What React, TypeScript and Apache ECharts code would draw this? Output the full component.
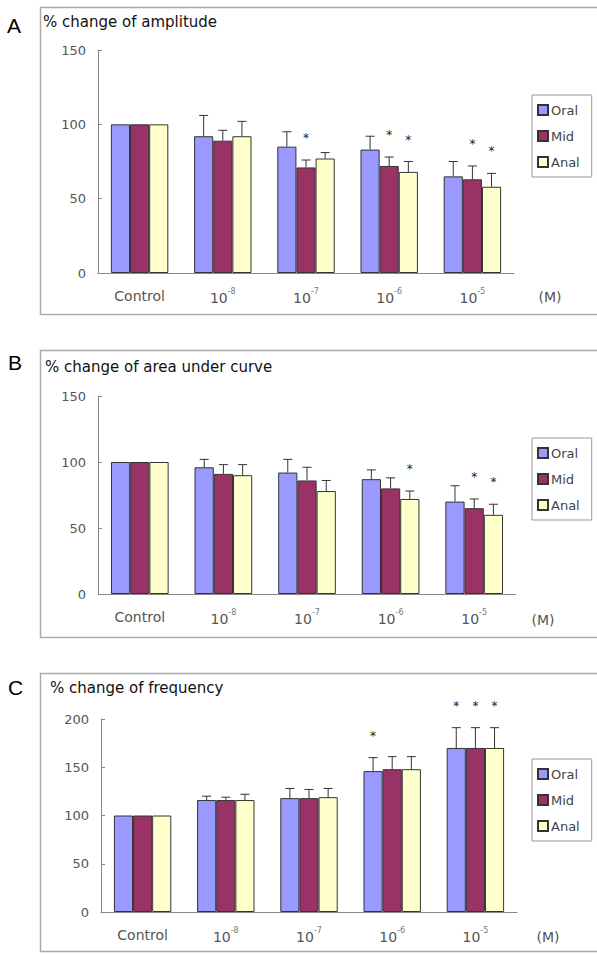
import React, { useEffect, useRef } from "react";
import * as echarts from "echarts";

const categories = ["Control", "10-8", "10-7", "10-6", "10-5"];
const seriesNames = ["Oral", "Mid", "Anal"];
const seriesColors = ["#9999FF", "#993366", "#FFFFCC"];

// Panel A: % change of amplitude
const ampOral = [100, 92, 85, 83, 65];
const ampOralErr = [0, 14, 10, 9, 10];
const ampMid = [100, 89, 71, 72, 63];
const ampMidErr = [0, 7, 5, 6, 9];
const ampAnal = [100, 92, 77, 68, 58];
const ampAnalErr = [0, 10, 4, 7, 9];
const ampOralSig = [0, 0, 0, 0, 0];
const ampMidSig = [0, 0, 1, 1, 1];
const ampAnalSig = [0, 0, 0, 1, 1];

// Panel B: % change of area under curve
const aucOral = [100, 96, 92, 87, 70];
const aucOralErr = [0, 6, 10, 7, 12];
const aucMid = [100, 91, 86, 80, 65];
const aucMidErr = [0, 7, 10, 8, 7];
const aucAnal = [100, 90, 78, 72, 60];
const aucAnalErr = [0, 8, 8, 6, 8];
const aucOralSig = [0, 0, 0, 0, 0];
const aucMidSig = [0, 0, 0, 0, 1];
const aucAnalSig = [0, 0, 0, 1, 1];

// Panel C: % change of frequency
const freqOral = [100, 116, 118, 146, 170];
const freqOralErr = [0, 4, 10, 14, 21];
const freqMid = [100, 116, 118, 148, 170];
const freqMidErr = [0, 3, 9, 13, 21];
const freqAnal = [100, 116, 119, 148, 170];
const freqAnalErr = [0, 6, 9, 13, 21];
const freqOralSig = [0, 0, 0, 1, 1];
const freqMidSig = [0, 0, 0, 0, 1];
const freqAnalSig = [0, 0, 0, 0, 1];

const ampMax = 150;
const aucMax = 150;
const freqMax = 200;
const yInterval = 50;

const panelTitles = ["% change of amplitude", "% change of area under curve", "% change of frequency"];
const panelLetters = ["A", "B", "C"];
const unitLabel = "(M)";

const FONT = "DejaVu Sans";
const CAT_GAP = 0.31;

export default function App() {
  const ref = useRef<HTMLDivElement>(null);

  useEffect(() => {
    if (!ref.current) return;
    const chart = echarts.init(ref.current, null, { renderer: "svg" });

    const panels = [
      {
        vals: [ampOral, ampMid, ampAnal],
        errs: [ampOralErr, ampMidErr, ampAnalErr],
        sigs: [ampOralSig, ampMidSig, ampAnalSig],
        max: ampMax,
        grid: { left: 98, top: 50, width: 416, height: 223 },
        legendTop: 95,
        titleXY: [43, 22],
        letterXY: [7, 25],
        unitXY: [550, 297],
      },
      {
        vals: [aucOral, aucMid, aucAnal],
        errs: [aucOralErr, aucMidErr, aucAnalErr],
        sigs: [aucOralSig, aucMidSig, aucAnalSig],
        max: aucMax,
        grid: { left: 98, top: 396, width: 418, height: 198 },
        legendTop: 438,
        titleXY: [45, 367],
        letterXY: [8, 362],
        unitXY: [543, 620],
      },
      {
        vals: [freqOral, freqMid, freqAnal],
        errs: [freqOralErr, freqMidErr, freqAnalErr],
        sigs: [freqOralSig, freqMidSig, freqAnalSig],
        max: freqMax,
        grid: { left: 101, top: 719, width: 416, height: 193 },
        legendTop: 759,
        titleXY: [50, 688],
        letterXY: [8, 687],
        unitXY: [548, 937],
      },
    ];

    const grids: any[] = [];
    const xAxes: any[] = [];
    const yAxes: any[] = [];
    const legends: any[] = [];
    const series: any[] = [];
    const graphics: any[] = [];

    const frames = [
      { y: 7.5, h: 307 },
      { y: 350.5, h: 287 },
      { y: 673.5, h: 278 },
    ];

    panels.forEach((p, gi) => {
      grids.push({ ...p.grid, containLabel: false });
      xAxes.push({
        type: "category",
        gridIndex: gi,
        data: categories,
        axisLine: { lineStyle: { color: "#888", width: 1 } },
        axisTick: { inside: true, length: 4, lineStyle: { color: "#888" } },
        axisLabel: {
          interval: 0,
          color: "#555",
          fontSize: 14,
          fontFamily: FONT,
          margin: 14,
          lineHeight: 18,
          formatter: (v: string) => (v === "Control" ? v : "{b|10}{s|" + v.slice(2) + "}"),
          rich: {
            b: { fontSize: 14, fontFamily: FONT, color: "#555", lineHeight: 18, verticalAlign: "bottom" },
            s: { fontSize: 8, fontFamily: FONT, color: "#777", lineHeight: 18, verticalAlign: "top" },
          },
        },
      });
      yAxes.push({
        type: "value",
        gridIndex: gi,
        min: 0,
        max: p.max,
        interval: yInterval,
        splitLine: { show: false },
        axisLine: { show: true, lineStyle: { color: "#888", width: 1 } },
        axisTick: { show: true, inside: true, length: 4, lineStyle: { color: "#888" } },
        axisLabel: { color: "#555", fontSize: 13, fontFamily: FONT, margin: 12 },
      });
      legends.push({
        data: seriesNames,
        orient: "vertical",
        left: 532,
        top: p.legendTop,
        itemWidth: 10,
        itemHeight: 10,
        itemGap: 12,
        icon: "rect",
        padding: [8, 12, 8, 5],
        borderColor: "#999",
        borderWidth: 1,
        textStyle: { color: "#444", fontSize: 13, fontFamily: FONT, lineHeight: 14, padding: [0, 0, 0, -2] },
        selectedMode: false,
      });
      seriesNames.forEach((name, si) => {
        series.push({
          name,
          type: "bar",
          xAxisIndex: gi,
          yAxisIndex: gi,
          data: p.vals[si],
          barGap: "0%",
          barCategoryGap: CAT_GAP * 100 + "%",
          itemStyle: { color: seriesColors[si], borderColor: "#333", borderWidth: 1 },
          z: 2,
        });
      });
      seriesNames.forEach((name, si) => {
        const vals = p.vals[si];
        const errs = p.errs[si];
        const sigs = p.sigs[si];
        series.push({
          name: name + " SD",
          type: "custom",
          xAxisIndex: gi,
          yAxisIndex: gi,
          silent: true,
          z: 5,
          data: vals.map((v, i) => [i, v, errs[i], sigs[i]]),
          encode: { x: 0, y: 1 },
          renderItem: (params: any, api: any) => {
            const cat = api.value(0);
            const mean = api.value(1);
            const err = api.value(2);
            const sig = api.value(3);
            const base = api.coord([cat, mean]);
            const top = api.coord([cat, mean + err]);
            const catW = api.size([1, 0])[0];
            const barW = (catW * (1 - CAT_GAP)) / 3;
            const x = base[0] + (si - 1) * barW;
            const children: any[] = [];
            if (err > 0) {
              children.push({
                type: "line",
                shape: { x1: x, y1: base[1], x2: x, y2: top[1] },
                style: { stroke: "#333", lineWidth: 1 },
              });
              children.push({
                type: "line",
                shape: { x1: x - 4.5, y1: top[1], x2: x + 4.5, y2: top[1] },
                style: { stroke: "#333", lineWidth: 1 },
              });
            }
            if (sig) {
              children.push({
                type: "text",
                x: x,
                y: top[1] - 22,
                style: {
                  text: "*",
                  fontSize: 12,
                  fontFamily: FONT,
                  fill: "#222",
                  align: "center",
                  verticalAlign: "middle",
                },
              });
            }
            return { type: "group", children };
          },
        });
      });

      graphics.push({
        type: "rect",
        shape: { x: 40.5, y: frames[gi].y, width: 600, height: frames[gi].h },
        style: { fill: "none", stroke: "#aaa", lineWidth: 1.5 },
        z: -10,
      });
      graphics.push({
        type: "text",
        x: p.titleXY[0],
        y: p.titleXY[1],
        style: {
          text: panelTitles[gi],
          fontSize: 15,
          fontFamily: FONT,
          fill: "#111",
          verticalAlign: "middle",
        },
      });
      graphics.push({
        type: "text",
        x: p.letterXY[0],
        y: p.letterXY[1],
        style: {
          text: panelLetters[gi],
          fontSize: 21,
          fontFamily: "Liberation Sans",
          fill: "#000",
          verticalAlign: "middle",
        },
      });
      graphics.push({
        type: "text",
        x: p.unitXY[0],
        y: p.unitXY[1],
        style: {
          text: unitLabel,
          fontSize: 14,
          fontFamily: FONT,
          fill: "#555",
          align: "center",
          verticalAlign: "middle",
        },
      });
    });

    chart.setOption({
      animation: false,
      backgroundColor: "#fff",
      grid: grids,
      xAxis: xAxes,
      yAxis: yAxes,
      legend: legends,
      series,
      graphic: graphics,
    });

    return () => chart.dispose();
  }, []);

  return (
    <div
      ref={ref}
      style={{ position: "absolute", left: 0, top: 0, width: 597, height: 954 }}
    />
  );
}
